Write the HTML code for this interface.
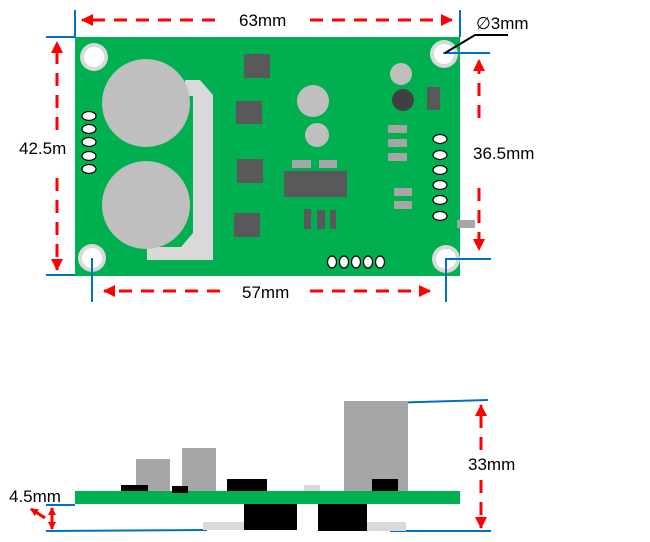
<!DOCTYPE html>
<html><head><style>body{margin:0;background:#fff}svg{display:block}text{font-family:"Liberation Sans",sans-serif;font-size:17px;fill:#000}</style></head><body>
<svg width="650" height="542" viewBox="0 0 650 542" xmlns="http://www.w3.org/2000/svg">
<defs><marker id="a" markerWidth="8" markerHeight="8" refX="7" refY="4" orient="auto" markerUnits="userSpaceOnUse"><path d="M0,0 L8,4 L0,8 z" fill="#f00"/></marker>
<marker id="b" markerWidth="12" markerHeight="12" refX="11" refY="6" orient="auto" markerUnits="userSpaceOnUse"><path d="M0,0 L12,6 L0,12 z" fill="#f00"/></marker></defs>
<rect x="75" y="37" width="385" height="239" fill="#00b050"/>
<g fill="#d9d9d9"><circle cx="94" cy="57" r="14"/><circle cx="92" cy="258" r="14"/><circle cx="444" cy="54" r="14"/><circle cx="446" cy="259" r="14"/></g>
<g fill="#fff"><circle cx="94" cy="57" r="10"/><circle cx="92" cy="258" r="10"/><circle cx="444" cy="54" r="10"/><circle cx="446" cy="259" r="10"/></g>
<polygon points="185,80 200,80 213,95 213,260 147,260 147,247 181,247 193,233 193,96 185,96" fill="#d9d9d9"/>
<circle cx="146" cy="103" r="44" fill="#bfbfbf"/><circle cx="146" cy="205" r="44" fill="#bfbfbf"/>
<g fill="#595959"><rect x="244" y="54" width="26" height="24"/><rect x="236" y="101" width="26" height="23"/><rect x="237" y="159" width="26" height="24"/><rect x="234" y="213" width="26" height="24"/><rect x="284" y="171" width="63" height="26"/><rect x="304" y="209" width="7" height="20"/><rect x="317" y="210" width="8" height="19"/><rect x="330" y="210" width="6" height="19"/><rect x="427" y="87" width="13" height="23"/></g>
<circle cx="313" cy="101" r="16" fill="#bfbfbf"/><circle cx="317" cy="135" r="12" fill="#bfbfbf"/>
<circle cx="401" cy="74" r="11" fill="#bfbfbf"/><circle cx="403" cy="100" r="11" fill="#404040"/>
<g fill="#a6a6a6"><rect x="292" y="160" width="19" height="8"/><rect x="319" y="160" width="18" height="8"/><rect x="388" y="125" width="19" height="8"/><rect x="388" y="139" width="19" height="8"/><rect x="388" y="153" width="19" height="8"/><rect x="394" y="188" width="18" height="8"/><rect x="394" y="201" width="18" height="8"/><rect x="457" y="220" width="18" height="8"/></g>
<g fill="#fff" stroke="#000" stroke-width="1.2">
<ellipse cx="89" cy="116" rx="7" ry="4.5"/><ellipse cx="89" cy="129" rx="7" ry="4.5"/><ellipse cx="89" cy="142" rx="7" ry="4.5"/><ellipse cx="89" cy="156" rx="7" ry="4.5"/><ellipse cx="89" cy="169" rx="7" ry="4.5"/>
<ellipse cx="440" cy="139" rx="7" ry="4.5"/><ellipse cx="440" cy="155" rx="7" ry="4.5"/><ellipse cx="440" cy="170" rx="7" ry="4.5"/><ellipse cx="440" cy="185" rx="7" ry="4.5"/><ellipse cx="440" cy="200" rx="7" ry="4.5"/><ellipse cx="440" cy="216" rx="7" ry="4.5"/>
<ellipse cx="332" cy="262" rx="4.5" ry="6"/><ellipse cx="344" cy="262" rx="4.5" ry="6"/><ellipse cx="356" cy="262" rx="4.5" ry="6"/><ellipse cx="368" cy="262" rx="4.5" ry="6"/><ellipse cx="380" cy="262" rx="4.5" ry="6"/></g>
<g stroke="#0070c0" stroke-width="2" fill="none">
<path d="M75,10V37H46M46,275H75M92,258V302M460,10V37M443,53H490M446,302V259H491"/>
<path d="M386,403L488,400M46,531L207,530M390,531H491M46,505H75"/></g>
<path d="M445,53L475,35H508" stroke="#000" stroke-width="2" fill="none"/>
<g stroke="#f00" stroke-width="3" stroke-dasharray="13,9" fill="none">
<path d="M215,20H82" marker-end="url(#b)"/><path d="M310,20H452" marker-end="url(#b)"/>
<path d="M57,130V42" marker-end="url(#b)"/><path d="M57,178V270" marker-end="url(#b)"/>
<path d="M220,291H104" marker-end="url(#b)"/><path d="M310,291H430" marker-end="url(#b)"/>
<path d="M479,118V60" marker-end="url(#b)"/><path d="M479,188V250" marker-end="url(#b)"/>
<path d="M481,450V405" marker-end="url(#b)"/><path d="M481,480V528" marker-end="url(#b)"/>
</g>
<g stroke="#f00" stroke-width="3" fill="none"><path d="M52,516V508" marker-end="url(#a)"/><path d="M52,516V529" marker-end="url(#a)"/><path d="M45,518L31,509" marker-end="url(#a)"/></g>
<text x="239" y="26">63mm</text><text x="19" y="154">42.5m</text><text x="242" y="298">57mm</text><text x="473" y="159">36.5mm</text>
<text x="476" y="29">∅3mm</text><text x="468" y="470">33mm</text><text x="9" y="502">4.5mm</text>
<g fill="#a6a6a6"><rect x="136" y="459" width="34" height="32"/><rect x="182" y="448" width="34" height="43"/><rect x="344" y="401" width="64" height="90"/></g>
<rect x="75" y="491" width="385" height="13" fill="#00b050"/>
<g fill="#000"><rect x="121" y="485" width="27" height="6"/><rect x="172" y="486" width="16" height="7"/><rect x="227" y="479" width="40" height="12"/><rect x="372" y="479" width="26" height="12"/><rect x="244" y="504" width="53" height="26"/><rect x="318" y="504" width="49" height="27"/></g>
<g fill="#d9d9d9"><rect x="304" y="485" width="16" height="6"/><rect x="203" y="522" width="41" height="8"/><rect x="367" y="522" width="39" height="9"/></g>
</svg></body></html>
